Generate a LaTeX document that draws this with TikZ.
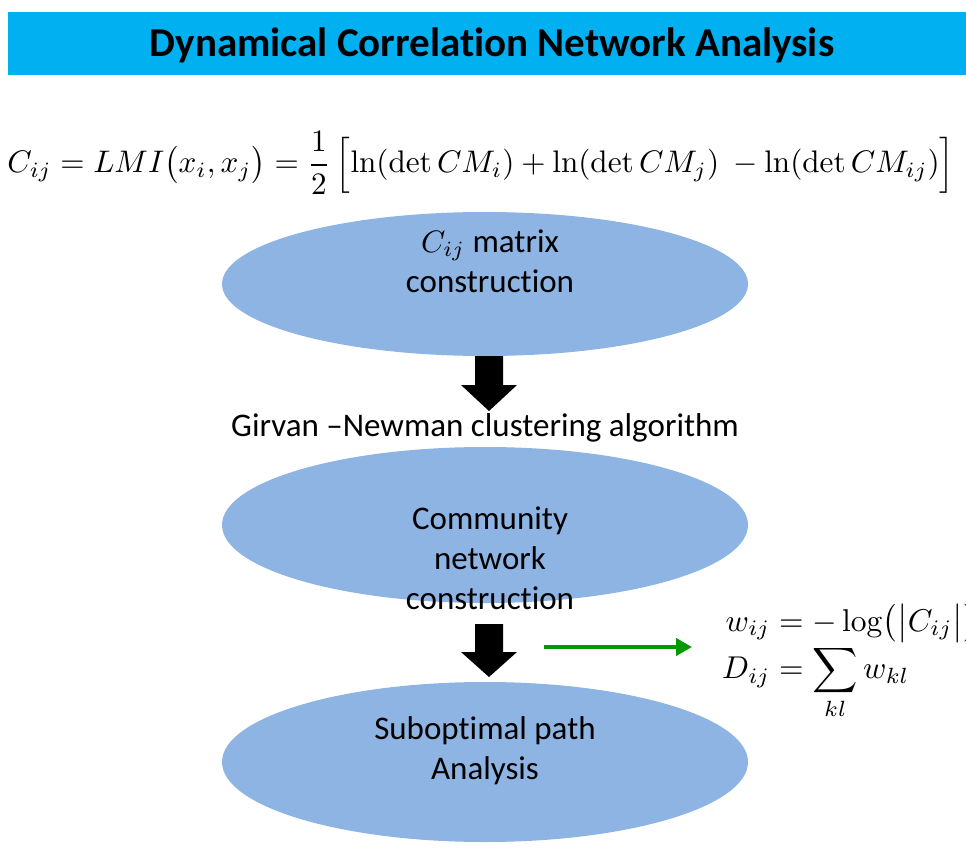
\documentclass[tikz,border=0pt]{standalone}
\usepackage{amsmath}
\usepackage[no-math]{fontspec}
\setmainfont[Ligatures={NoCommon}]{Carlito}
\usetikzlibrary{shapes.geometric,arrows.meta,calc}
\definecolor{barblue}{RGB}{0,176,240}
\definecolor{stageblue}{RGB}{142,180,227}
\definecolor{flowgreen}{RGB}{0,153,0}
\tikzset{
  stage/.style={ellipse, fill=stageblue, draw=none, minimum width=526pt, minimum height=#1, inner sep=0pt},
  stagetext/.style={align=center, font=\fontsize{33}{40}\selectfont, inner sep=0pt},
  blockarrow/.style={fill=black, draw=none},
}
\begin{document}
\begin{tikzpicture}[x=1pt, y=-1pt]
\useasboundingbox (0,0) rectangle (966,851);
\clip (0,0) rectangle (966,851);

% title bar
\fill[barblue] (8,12) rectangle (966,75);
\node (title) at (492,45) {\bfseries\fontsize{41}{48}\selectfont Dynamical Correlation Network Analysis};

% correlation formula
\node (lmi) at (481,163) {\resizebox{947pt}{!}{$\displaystyle C_{ij}=LMI\bigl(x_i,x_j\bigr)=\frac{1}{2}\,\Bigl[\ln(\det CM_i)+\ln(\det CM_j)\ -\ln(\det CM_{ij})\Bigr]$}};

% stages
\node[stage=144pt] (e1) at (485,284) {};
\node[stagetext] (t1) at (490,261) {\scalebox{3.1}{\normalsize$C_{ij}$} matrix\\construction};

\node[stagetext] (gn) at (485,428) {Girvan –Newman clustering algorithm};

\node[stage=156pt] (e2) at (485,525) {};
\node[stagetext] (t2) at (490,558) {Community\\network\\construction};

\node[stage=160pt] (e3) at (485,762) {};
\node[stagetext] (t3) at (485,751) {Suboptimal path\\Analysis};

% block arrows between stages
\coordinate (a1) at (489,356);
\fill[blockarrow] (a1) ++(-14,0) -- ++(28,0) -- ++(0,29) -- ++(14,0) -- (489,411) -- (461,385) -- (475,385) -- cycle;
\coordinate (a2) at (489,624);
\fill[blockarrow] (a2) ++(-14,0) -- ++(28,0) -- ++(0,28) -- ++(14,0) -- (489,677) -- (461,652) -- (475,652) -- cycle;

% path weight formulas
\node[anchor=west, inner sep=0pt] (wd) at (722,662) {\scalebox{3.15}{\normalsize$\begin{aligned} w_{ij} &= -\log\bigl(\bigl|C_{ij}\bigr|\bigr)\\[-3pt] D_{ij} &= \sum_{kl} w_{kl}\end{aligned}$}};

\coordinate (g0) at (544,647);
\draw[flowgreen, line width=4.5pt, -{Triangle[length=16pt,width=17pt]}] (g0) -- (692,647);
\end{tikzpicture}
\end{document}
